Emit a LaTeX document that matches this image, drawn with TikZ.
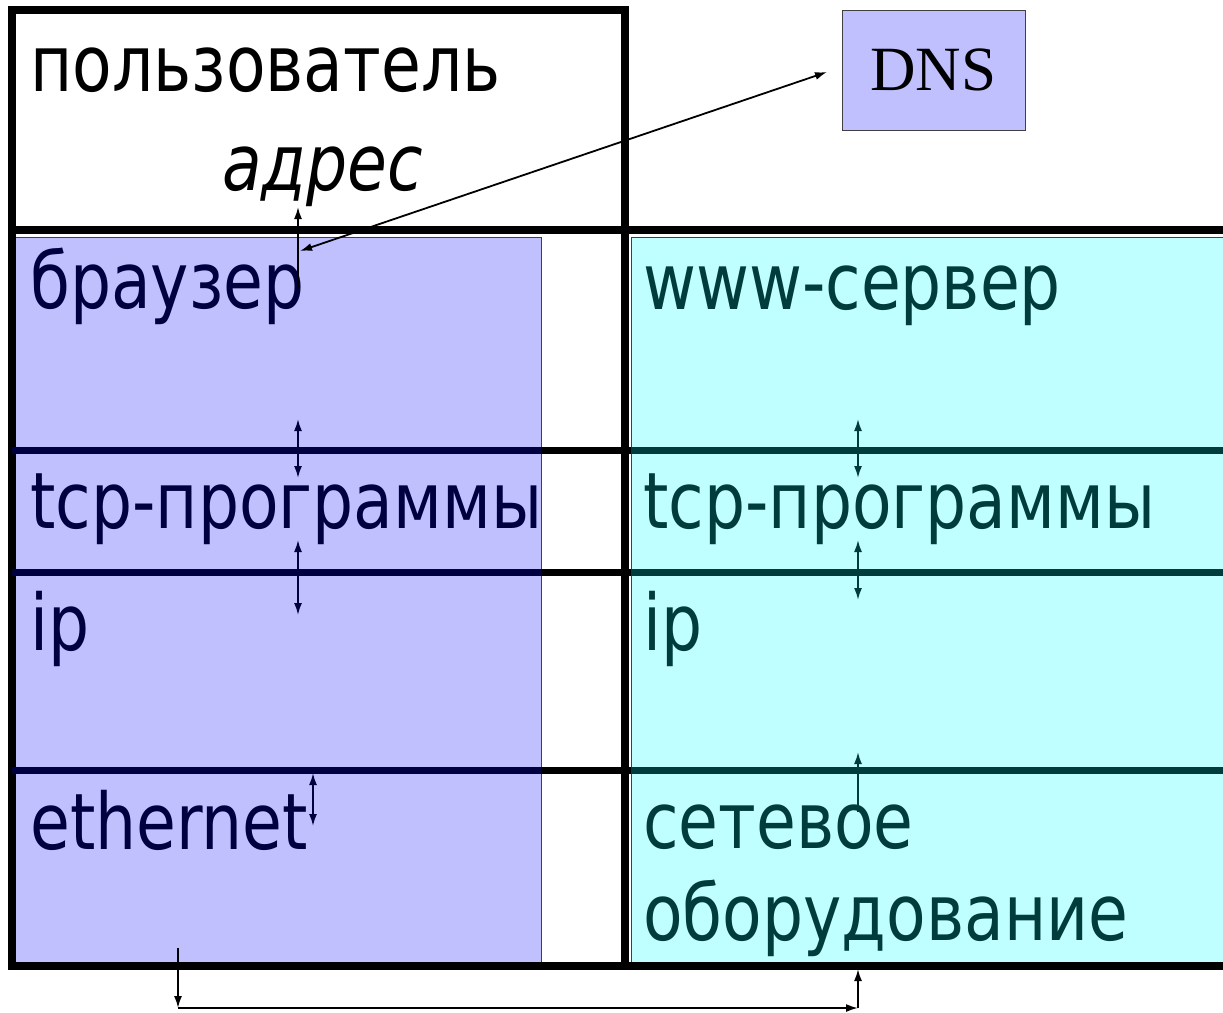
\documentclass[tikz,border=0pt]{standalone}
\usepackage{fontspec}
\setmainfont{DejaVu Sans}[FakeStretch=0.83]
\newfontfamily\dnsfont{Liberation Serif}
\usetikzlibrary{arrows.meta}
\definecolor{layerblue}{RGB}{192,192,255}
\definecolor{layercyan}{RGB}{192,255,255}
\definecolor{textnavy}{RGB}{0,0,64}
\definecolor{textteal}{RGB}{0,60,60}

\begin{document}
\begin{tikzpicture}[x=1pt, y=-1pt,
		label_style/.style={anchor=base west, inner sep=0pt, font=\fontsize{78}{90}\selectfont},
		frame_style/.style={draw=black, line width=8pt},
		layer_style/.style={line width=7pt},
		box_style/.style={draw=black!75, line width=1pt},
		dns_style/.style={rectangle, draw=black!75, fill=layerblue, line width=1pt, minimum width=183pt, minimum height=120pt, font=\dnsfont\fontsize{63}{63}\selectfont},
		both_arrow/.style={line width=1.8pt, {Latex[length=12pt,width=8pt]}-{Latex[length=12pt,width=8pt]}},
		one_arrow/.style={line width=1.8pt, -{Latex[length=12pt,width=8pt]}}]
		
		\useasboundingbox (0,0) rectangle (1223,1012);
		
		% layer boxes
		\fill[layerblue, box_style] (12,237) rectangle (541,963);
		\fill[layercyan, box_style] (631,237) rectangle (1240,963);
		
		% frame
		\draw[frame_style] (12,966) -- (12,10) -- (625,10) -- (625,966);
		\draw[frame_style] (8,230) -- (1223,230);
		\draw[frame_style] (8,966) -- (1223,966);
		\foreach \y in {450,572,770}{
			\draw[layer_style, textnavy] (12,\y) -- (541,\y);
			\draw[layer_style, black] (541,\y) -- (631,\y);
			\draw[layer_style, textteal] (631,\y) -- (1223,\y);
		}
		
		\node[dns_style] (dns) at (933.5,70) {DNS};
		
		% texts
		\node[label_style] (user) at (30,91) {пользователь};
		\node[label_style, font=\fontsize{78}{90}\selectfont\itshape] (addr) at (222,190) {адрес};
		\node[label_style, text=textnavy] (browser) at (30,308) {браузер};
		\node[label_style, text=textnavy] (tcp_l) at (30,528) {tcp-программы};
		\node[label_style, text=textnavy] (ip_l) at (30,650) {ip};
		\node[label_style, text=textnavy] (eth) at (30,849) {ethernet};
		\node[label_style, text=textteal] (server) at (643,309) {www-сервер};
		\node[label_style, text=textteal] (tcp_r) at (643,528) {tcp-программы};
		\node[label_style, text=textteal] (ip_r) at (643,650) {ip};
		\node[label_style, text=textteal] (net1) at (643,848) {сетевое};
		\node[label_style, text=textteal] (net2) at (643,940) {оборудование};
		
		% arrow ends
		\coordinate (addr_up) at (298,207);
		\coordinate (addr_dn) at (298,290);
		\coordinate (dns_br) at (300,251);
		\coordinate (dns_in) at (827,72);
		\coordinate (l1_up) at (298,419);
		\coordinate (l1_dn) at (298,478);
		\coordinate (l2_up) at (298,540);
		\coordinate (l2_dn) at (298,615);
		\coordinate (r1_up) at (858,419);
		\coordinate (r1_dn) at (858,478);
		\coordinate (r2_up) at (858,540);
		\coordinate (r2_dn) at (858,600);
		\coordinate (eth_up) at (313,773);
		\coordinate (eth_dn) at (313,826);
		\coordinate (hw_up) at (858,752);
		\coordinate (hw_dn) at (858,812);
		\coordinate (wire_a) at (178,948);
		\coordinate (wire_b) at (178,1008);
		\coordinate (wire_c) at (858,1008);
		\coordinate (wire_d) at (858,969);
		
		\draw[one_arrow]  (addr_dn) -- (addr_up);
		\draw[both_arrow] (dns_br) -- (dns_in);
		\draw[both_arrow, textnavy] (l1_up) -- (l1_dn);
		\draw[both_arrow, textnavy] (l2_up) -- (l2_dn);
		\draw[both_arrow, textnavy] (eth_up) -- (eth_dn);
		\draw[both_arrow, textteal] (r1_up) -- (r1_dn);
		\draw[both_arrow, textteal] (r2_up) -- (r2_dn);
		\draw[one_arrow, textteal] (hw_dn) -- (hw_up);
		\draw[one_arrow] (wire_a) -- (wire_b);
		\draw[one_arrow] (wire_b) -- (wire_c);
		\draw[one_arrow] (wire_c) -- (wire_d);
		
\end{tikzpicture}
\end{document}
